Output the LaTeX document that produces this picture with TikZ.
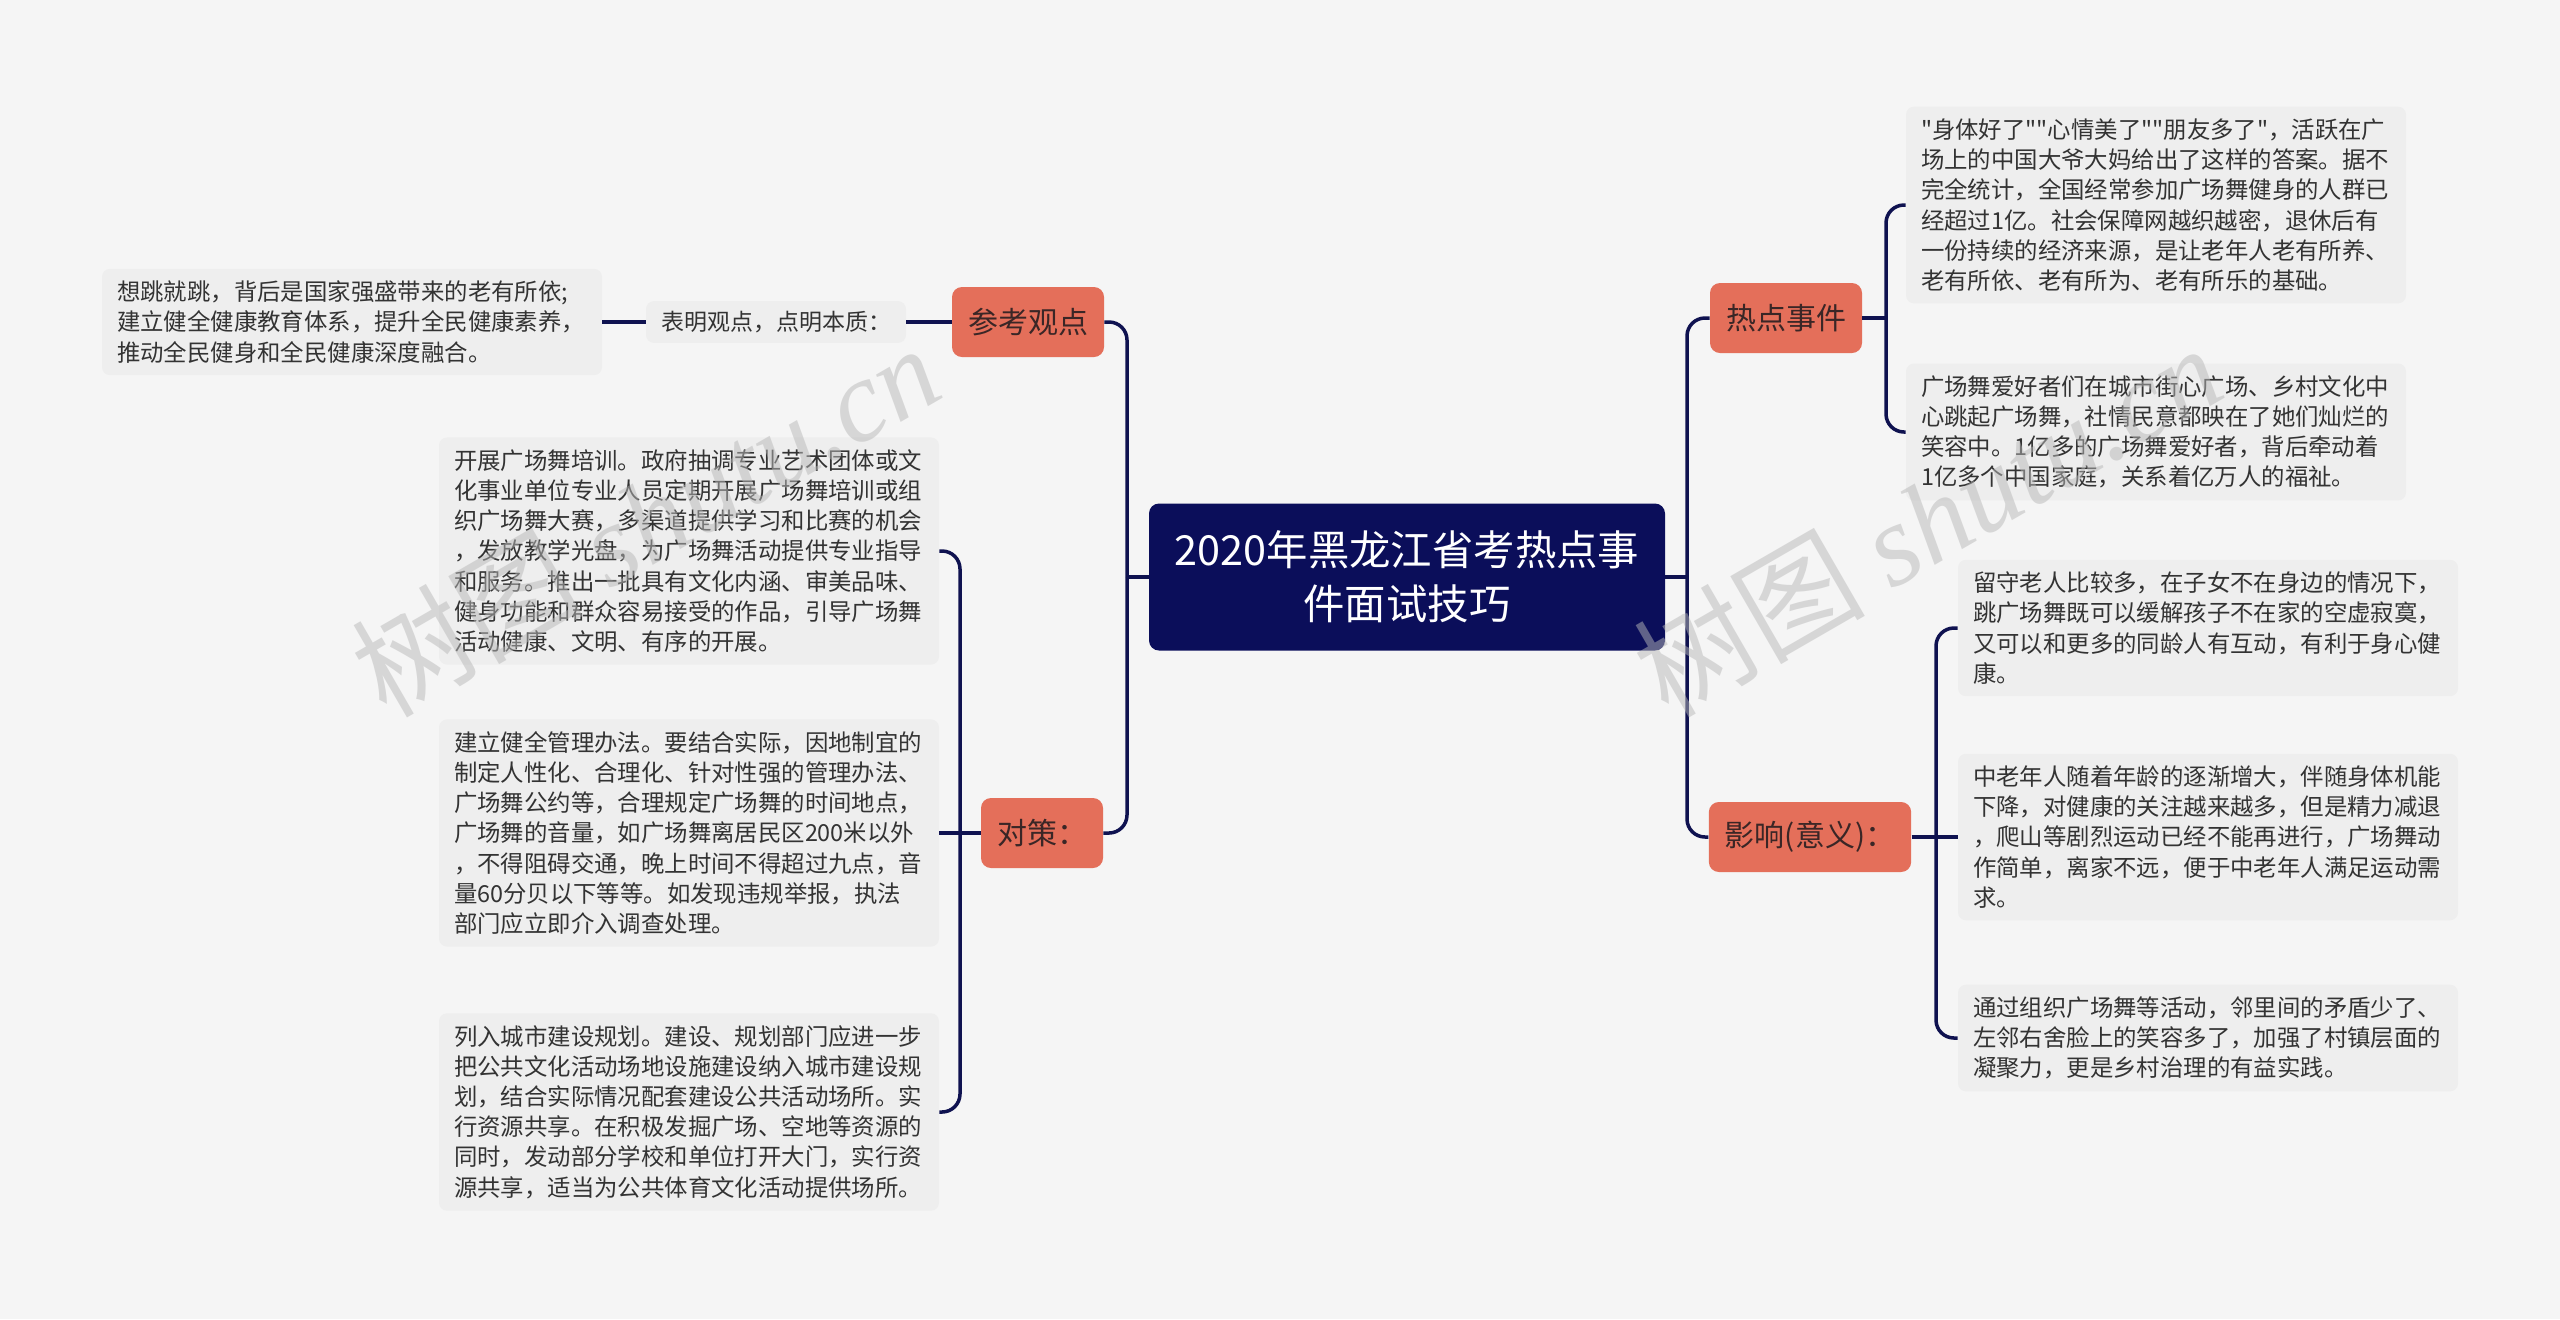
\documentclass[tikz,border=0pt]{standalone}
\usepackage{fontspec}
\setmainfont{Noto Sans CJK SC}[Ligatures=TeXOff]
\newfontfamily\wmfont{Liberation Serif}
\definecolor{bggray}{HTML}{F5F5F5}
\definecolor{leafgray}{HTML}{EEEEEE}
\definecolor{salmon}{HTML}{E46F5A}
\definecolor{rootblue}{HTML}{0B0E5A}
\definecolor{linkblue}{HTML}{0F1250}
\definecolor{textdark}{HTML}{333333}
\definecolor{branchtext}{HTML}{3A2626}
\definecolor{wmgray}{HTML}{B8B8B8}

\begin{document}
\begin{tikzpicture}[x=0.5pt,y=-0.5pt,
    link/.style={draw=linkblue, line width=1.75pt, rounded corners=9pt},
    leaf/.style={fill=leafgray, rounded corners=4pt, align=left, text width=235pt,
        inner xsep=7.5pt, inner ysep=6pt, text=textdark,
        font=\fontsize{11.7}{15.1}\selectfont},
    tag/.style={fill=leafgray, rounded corners=4pt, inner xsep=7.5pt, inner ysep=5pt,
        text=textdark, font=\fontsize{11.5}{14}\selectfont},
    branch/.style={fill=salmon, rounded corners=5pt, minimum height=35pt,
        inner xsep=8pt, text=branchtext, font=\fontsize{15}{18}\selectfont},
    root/.style={fill=rootblue, rounded corners=5pt, minimum width=258pt,
        minimum height=73.5pt, align=center, text=white,
        font=\fontsize{20.7}{27}\selectfont},
    watermark/.style={text=wmgray, opacity=0.5, rotate=30, font=\fontsize{58}{58}\selectfont}]
    % Background
    \fill[bggray] (0,0) rectangle (2560,1319);
    \useasboundingbox (0,0) rectangle (2560,1319);

    % Root
    \node[root] (root) at (1407,577) {2020年黑龙江省考热点事\\件面试技巧};

    % Left branches
    \node[branch] (ckgd) at (1028,322) {参考观点};
    \node[tag] (bmgd) at (776,322) {表明观点，点明本质：};
    \node[leaf] (xtjt) at (352,322) {想跳就跳，背后是国家强盛带来的老有所依;\\
        建立健全健康教育体系，提升全民健康素养，\\
        推动全民健身和全民健康深度融合。};

    \node[branch] (duice) at (1042,833) {对策：};
    \node[leaf] (dc1) at (689,551) {开展广场舞培训。政府抽调专业艺术团体或文\\
        化事业单位专业人员定期开展广场舞培训或组\\
        织广场舞大赛，多渠道提供学习和比赛的机会\\
        ，发放教学光盘，为广场舞活动提供专业指导\\
        和服务。推出一批具有文化内涵、审美品味、\\
        健身功能和群众容易接受的作品，引导广场舞\\
        活动健康、文明、有序的开展。};
    \node[leaf] (dc2) at (689,833) {建立健全管理办法。要结合实际，因地制宜的\\
        制定人性化、合理化、针对性强的管理办法、\\
        广场舞公约等，合理规定广场舞的时间地点，\\
        广场舞的音量，如广场舞离居民区200米以外\\
        ，不得阻碍交通，晚上时间不得超过九点，音\\
        量60分贝以下等等。如发现违规举报，执法\\
        部门应立即介入调查处理。};
    \node[leaf] (dc3) at (689,1112) {列入城市建设规划。建设、规划部门应进一步\\
        把公共文化活动场地设施建设纳入城市建设规\\
        划，结合实际情况配套建设公共活动场所。实\\
        行资源共享。在积极发掘广场、空地等资源的\\
        同时，发动部分学校和单位打开大门，实行资\\
        源共享，适当为公共体育文化活动提供场所。};

    % Right branches
    \node[branch] (rdsj) at (1786,318) {热点事件};
    \node[leaf] (rd1) at (2156,205) {"身体好了""心情美了""朋友多了"，活跃在广\\
        场上的中国大爷大妈给出了这样的答案。据不\\
        完全统计，全国经常参加广场舞健身的人群已\\
        经超过1亿。社会保障网越织越密，退休后有\\
        一份持续的经济来源，是让老年人老有所养、\\
        老有所依、老有所为、老有所乐的基础。};
    \node[leaf] (rd2) at (2156,432) {广场舞爱好者们在城市街心广场、乡村文化中\\
        心跳起广场舞，社情民意都映在了她们灿烂的\\
        笑容中。1亿多的广场舞爱好者，背后牵动着\\
        1亿多个中国家庭，关系着亿万人的福祉。};

    \node[branch] (yx) at (1810,837) {影响(意义)：};
    \node[leaf] (yx1) at (2208,628) {留守老人比较多，在子女不在身边的情况下，\\
        跳广场舞既可以缓解孩子不在家的空虚寂寞，\\
        又可以和更多的同龄人有互动，有利于身心健\\
        康。};
    \node[leaf] (yx2) at (2208,837) {中老年人随着年龄的逐渐增大，伴随身体机能\\
        下降，对健康的关注越来越多，但是精力减退\\
        ，爬山等剧烈运动已经不能再进行，广场舞动\\
        作简单，离家不远，便于中老年人满足运动需\\
        求。};
    \node[leaf] (yx3) at (2208,1038) {通过组织广场舞等活动，邻里间的矛盾少了、\\
        左邻右舍脸上的笑容多了，加强了村镇层面的\\
        凝聚力，更是乡村治理的有益实践。};

    % Hubs
    \coordinate (lhub) at (1127,577);
    \coordinate (rhub) at (1687,577);
    \coordinate (dhub) at (960,833);
    \coordinate (hhub) at (1886,318);
    \coordinate (yhub) at (1936,837);

    % Connectors
    \draw[link] (root.west) -- (lhub);
    \draw[link] (lhub) |- (ckgd.east);
    \draw[link] (lhub) |- (duice.east);
    \draw[link] (ckgd.west) -- (bmgd.east);
    \draw[link] (bmgd.west) -- (xtjt.east);
    \draw[link] (duice.west) -- (dhub);
    \draw[link] (dhub) |- (dc1.east);
    \draw[link] (dhub) -- (dc2.east);
    \draw[link] (dhub) |- (dc3.east);

    \draw[link] (root.east) -- (rhub);
    \draw[link] (rhub) |- (rdsj.west);
    \draw[link] (rhub) |- (yx.west);
    \draw[link] (rdsj.east) -- (hhub);
    \draw[link] (hhub) |- (rd1.west);
    \draw[link] (hhub) |- (rd2.west);
    \draw[link] (yx.east) -- (yhub);
    \draw[link] (yhub) |- (yx1.west);
    \draw[link] (yhub) -- (yx2.west);
    \draw[link] (yhub) |- (yx3.west);

    % Watermarks
    \node[watermark] (wm1) at (645,519) {树图 {\wmfont\itshape shutu.cn}};
    \node[watermark] (wm2) at (1927,519) {树图 {\wmfont\itshape shutu.cn}};
\end{tikzpicture}
\end{document}
